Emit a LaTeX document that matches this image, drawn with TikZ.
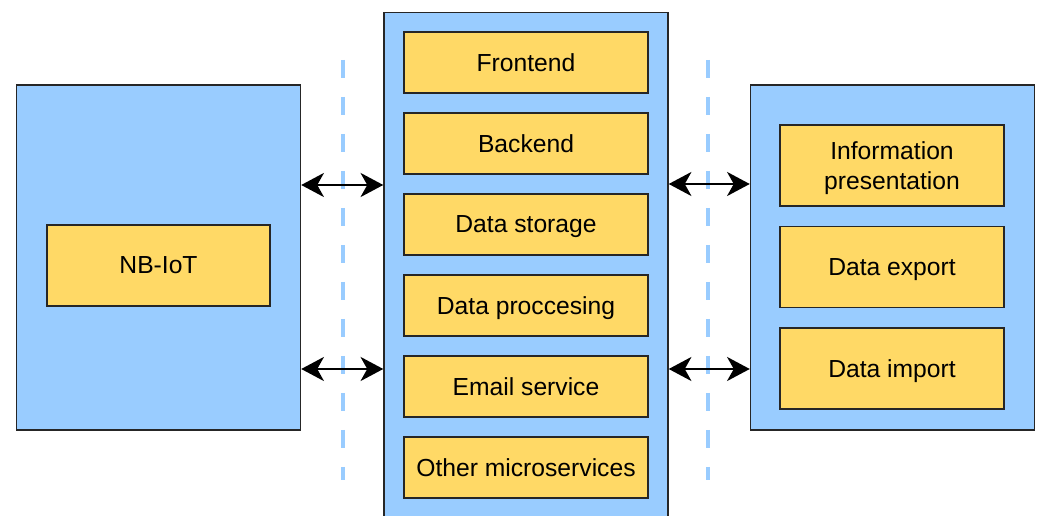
\documentclass[tikz,border=0pt]{standalone}
\usepackage{fontspec}
\setmainfont{Liberation Sans}
\usepackage{xcolor}
\usetikzlibrary{arrows.meta}
\definecolor{groupblue}{HTML}{99CCFF}
\definecolor{boxyellow}{HTML}{FFD966}

\begin{document}
\begin{tikzpicture}[
    x=0.75pt, y=-0.75pt,
    node distance=60.75pt,
    group/.style={rectangle, draw=black!85, line width=1.1pt, fill=groupblue,
                  minimum width=213pt, minimum height=258.75pt},
    box/.style={rectangle, draw=black!85, line width=1.1pt, fill=boxyellow,
                minimum width=183pt, minimum height=45.75pt, align=center,
                text depth=0pt, font=\fontsize{18.5}{22}\selectfont},
    arrow/.style={{Stealth[length=17pt,width=18pt,inset=5pt]}-{Stealth[length=17pt,width=18pt,inset=5pt]}, line width=2pt},
    divider/.style={draw=groupblue, line width=3pt, dash pattern=on 13.5pt off 14.25pt}
]
    \useasboundingbox (0,0) rectangle (1040,516);

    % groups
    \node[group] (iot) at (158.5,257.5) {};
    \node[group, minimum height=385pt, anchor=north] (core) at (526,12) {};
    \node[group] (client) at (892.5,257.5) {};

    % dividers
    \draw[divider] (343,60) -- (343,480);
    \draw[divider] (708,60) -- (708,480);

    % device side
    \node[box, minimum width=167.25pt, minimum height=60.75pt] (nbiot) at (158.5,265.5) {NB-IoT};

    % platform services
    \node[box] (frontend) at (526,62.5) {Frontend};
    \node[box, below of=frontend] (backend) {Backend};
    \node[box, below of=backend] (storage) {Data storage};
    \node[box, below of=storage] (processing) {Data proccesing};
    \node[box, below of=processing] (email) {Email service};
    \node[box, below of=email] (other) {Other microservices};

    % client side
    \begin{scope}[node distance=76.1pt]
    \node[box, minimum width=168pt, minimum height=60.75pt, font=\fontsize{18.5}{22.5}\selectfont] (presentation) at (892,165.5) {Information\\presentation};
    \node[box, minimum width=168pt, minimum height=60.75pt, below of=presentation] (export) {Data export};
    \node[box, minimum width=168pt, minimum height=60.75pt, below of=export] (import) {Data import};
    \end{scope}

    % links
    \draw[arrow] (iot.east |- 0,185) -- (core.west |- 0,185);
    \draw[arrow] (iot.east |- 0,369) -- (core.west |- 0,369);
    \draw[arrow] (core.east |- 0,184) -- (client.west |- 0,184);
    \draw[arrow] (core.east |- 0,369) -- (client.west |- 0,369);
\end{tikzpicture}
\end{document}
